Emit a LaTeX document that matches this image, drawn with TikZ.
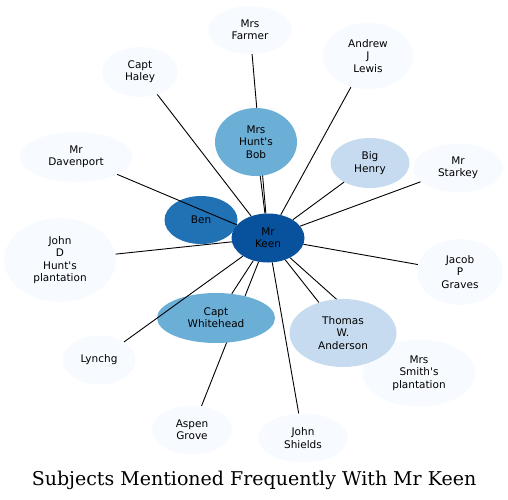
\documentclass[tikz,border=0pt]{standalone}
\usepackage{fontspec}
\usepackage{xcolor}
\usepackage{tikz}
\usetikzlibrary{shapes.geometric}

\newfontfamily\subjfont{DejaVu Sans}
\newfontfamily\titlefont{DejaVu Serif}

\definecolor{bluei}{HTML}{F7FBFF}
\definecolor{blueii}{HTML}{C6DBEF}
\definecolor{blueiii}{HTML}{6BAED6}
\definecolor{blueiv}{HTML}{2171B5}
\definecolor{bluev}{HTML}{08519C}

\pgfdeclarelayer{background}
\pgfsetlayers{background,main}

\begin{document}
\begin{tikzpicture}[x=1pt, y=-1pt,
  subj/.style={ellipse, inner sep=0pt, align=center,
    font=\subjfont\fontsize{10.5}{12.3}\selectfont},
  link/.style={line width=0.9pt}]
  \useasboundingbox (0,0) rectangle (508,499);

  % outer ring, rarely mentioned
  \node[subj, fill=bluei, minimum width=84pt, minimum height=48pt] (farmer) at (250,30) {Mrs\\Farmer};
  \node[subj, fill=bluei, minimum width=76pt, minimum height=50pt] (haley) at (140,72) {Capt\\Haley};
  \node[subj, fill=bluei, minimum width=90pt, minimum height=67pt] (lewis) at (368,56) {Andrew\\J\\Lewis};
  \node[subj, fill=bluei, minimum width=90pt, minimum height=49pt] (starkey) at (458,168) {Mr\\Starkey};
  \node[subj, fill=bluei, minimum width=113pt, minimum height=50pt] (davenport) at (76,157) {Mr\\Davenport};
  \node[subj, fill=bluei, minimum width=112pt, minimum height=84pt] (jdhunt) at (60,260) {John\\D\\Hunt's\\plantation};
  \node[subj, fill=bluei, minimum width=86pt, minimum height=66pt] (graves) at (460,272) {Jacob\\P\\Graves};
  \node[subj, fill=bluei, minimum width=113pt, minimum height=67pt] (smith) at (419,373) {Mrs\\Smith's\\plantation};
  \node[subj, fill=bluei, minimum width=73pt, minimum height=49pt] (lynchg) at (99,360) {Lynchg};
  \node[subj, fill=bluei, minimum width=80pt, minimum height=49pt] (aspen) at (192,430) {Aspen\\Grove};
  \node[subj, fill=bluei, minimum width=90pt, minimum height=49pt] (shields) at (303,438) {John\\Shields};

  % inner ring
  \node[subj, fill=blueiii, minimum width=82pt, minimum height=68pt] (huntsbob) at (256,142) {Mrs\\Hunt's\\Bob};
  \node[subj, fill=blueii, minimum width=79pt, minimum height=50pt] (henry) at (370,163) {Big\\Henry};
  \node[subj, fill=blueiv, minimum width=73pt, minimum height=48pt] (ben) at (201,220) {Ben};
  \node[subj, fill=bluev, minimum width=73pt, minimum height=49pt] (keen) at (268,238) {Mr\\Keen};
  \node[subj, fill=blueiii, minimum width=118pt, minimum height=50pt] (whitehead) at (216,318) {Capt\\Whitehead};
  \node[subj, fill=blueii, minimum width=107pt, minimum height=68pt] (anderson) at (343,333) {Thomas\\W.\\Anderson};

  % links hidden behind other subjects
  \begin{pgfonlayer}{background}
    \foreach \t in {farmer,aspen,smith}
      \draw[link] (keen) -- (\t);
  \end{pgfonlayer}

  \foreach \t in {haley,lewis,starkey,davenport,jdhunt,graves,lynchg,shields,huntsbob,henry,whitehead,anderson}
    \draw[link] (keen) -- (\t);

  \node[anchor=base, font=\titlefont\fontsize{19}{23}\selectfont] (title) at (254,485)
    {Subjects Mentioned Frequently With Mr Keen};
\end{tikzpicture}
\end{document}
